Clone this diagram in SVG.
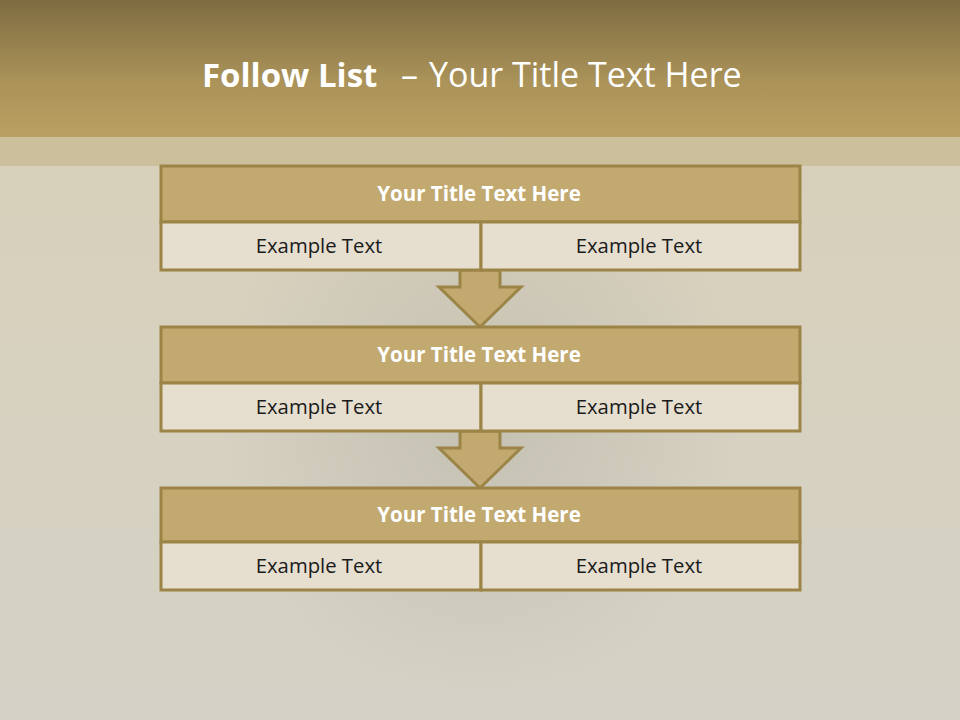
<svg xmlns="http://www.w3.org/2000/svg" width="960" height="720" viewBox="0 0 960 720">
<defs>
<linearGradient id="hdr" x1="0" y1="0" x2="0" y2="1">
<stop offset="0" stop-color="#7e6c41"/>
<stop offset="0.6" stop-color="#ab9359"/>
<stop offset="1" stop-color="#b9a062"/>
</linearGradient>
<linearGradient id="bg" x1="0" y1="0" x2="0" y2="1">
<stop offset="0" stop-color="#d8cfb6"/>
<stop offset="0.5" stop-color="#d7d1bf"/>
<stop offset="1" stop-color="#d4d2c6"/>
</linearGradient>
<radialGradient id="shadow" cx="0.5" cy="0.5" r="0.5">
<stop offset="0" stop-color="#b8b5aa" stop-opacity="0.6"/>
<stop offset="1" stop-color="#b8b5aa" stop-opacity="0"/>
</radialGradient>
<style>
.title{fill:#c1a970;stroke:#9c8447;stroke-width:3}
.cell{fill:#e6dfcf;stroke:#9c8447;stroke-width:3}
.arrow{fill:#c1a970;stroke:#9c8447;stroke-width:3;stroke-linejoin:miter}
.tt{font-family:"Open Sans","Liberation Sans",sans-serif;font-weight:bold;font-size:20.5px;fill:#ffffff;text-anchor:middle}
.ct{font-family:"Open Sans","Liberation Sans",sans-serif;font-size:20.3px;fill:#1a1a1a;text-anchor:middle}
.hd{font-family:"Open Sans","Liberation Sans",sans-serif;fill:#ffffff}
</style>
</defs>
<rect width="960" height="720" fill="url(#bg)"/>
<ellipse cx="480" cy="420" rx="260" ry="280" fill="url(#shadow)"/>
<rect x="0" y="136" width="960" height="30" fill="#c8b890" opacity="0.7"/>
<rect x="0" y="0" width="960" height="137" fill="url(#hdr)"/>
<text class="hd" x="202" y="87" font-size="33" font-weight="bold">Follow List</text>
<text class="hd" x="401" y="87" font-size="34">–</text>
<text class="hd" x="429" y="87" font-size="34">Your Title Text Here</text>

<g id="connectors">
<polygon class="arrow" points="460,270 500,270 500,287 521,287 480,327 439,287 460,287"/>
<polygon class="arrow" points="460,431 500,431 500,448 521,448 480,488 439,448 460,448"/>
</g>

<g id="node1">
<rect class="title" x="161" y="166" width="639" height="56"/>
<rect class="cell" x="161" y="222" width="320" height="48"/>
<rect class="cell" x="481" y="222" width="319" height="48"/>
<text class="tt" x="479" y="201">Your Title Text Here</text>
<text class="ct" x="319" y="253">Example Text</text>
<text class="ct" x="639" y="253">Example Text</text>
</g>
<g id="node2">
<rect class="title" x="161" y="327" width="639" height="56"/>
<rect class="cell" x="161" y="383" width="320" height="48"/>
<rect class="cell" x="481" y="383" width="319" height="48"/>
<text class="tt" x="479" y="362">Your Title Text Here</text>
<text class="ct" x="319" y="414">Example Text</text>
<text class="ct" x="639" y="414">Example Text</text>
</g>
<g id="node3">
<rect class="title" x="161" y="488" width="639" height="54"/>
<rect class="cell" x="161" y="542" width="320" height="48"/>
<rect class="cell" x="481" y="542" width="319" height="48"/>
<text class="tt" x="479" y="522">Your Title Text Here</text>
<text class="ct" x="319" y="573">Example Text</text>
<text class="ct" x="639" y="573">Example Text</text>
</g>
</svg>
